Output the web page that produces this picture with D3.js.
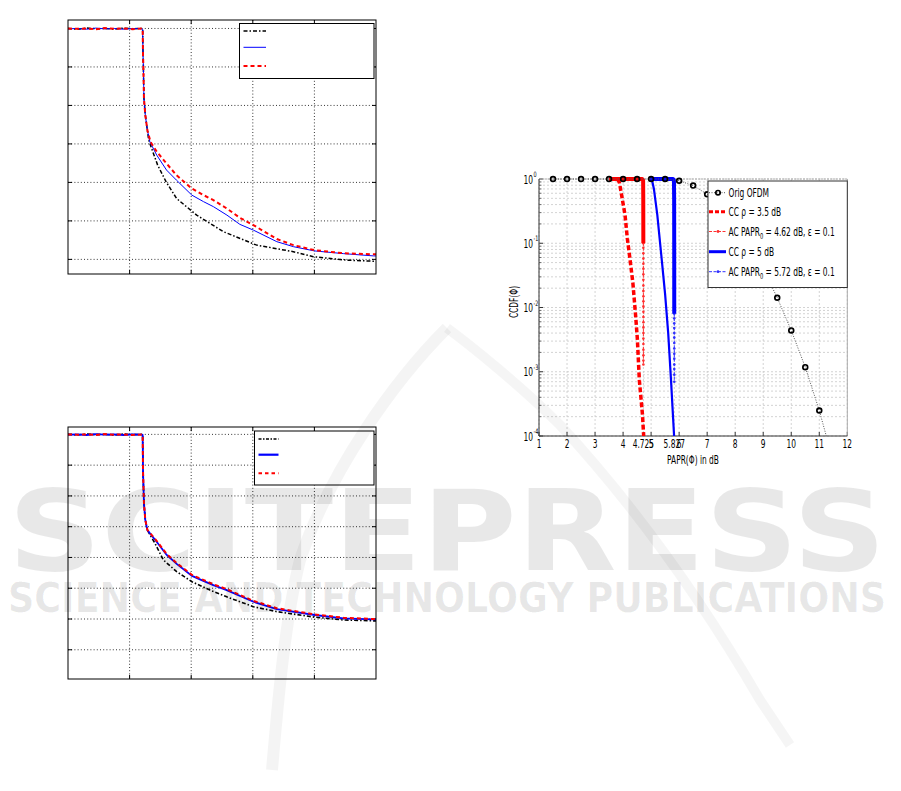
<!DOCTYPE html>
<html><head><meta charset="utf-8">
<script src="https://cdn.jsdelivr.net/npm/d3@7"></script>
<style>body{margin:0;background:#fff}svg{display:block}</style>
</head><body>
<script>
// ---------- DATA ----------
const leftXTicks = [1,2,3,4];
const topYTicks = [0,1,2,3,4,5,6];
const botYTicks = [1,2,3,4,5,6,7,8];

const topBlack = [[0,6.0],[0.15,5.98],[0.3,6.01],[0.45,5.99],[0.6,6.0],[0.75,5.98],[0.9,6.01],[1.05,5.99],[1.2,6.0],[1.212,5.98],[1.218,5.3],[1.223,5.05],[1.233,4.18],[1.255,3.75],[1.288,3.36],[1.31,3.1],[1.358,2.88],[1.455,2.45],[1.591,2.02],[1.764,1.58],[2.089,1.15],[2.522,0.72],[3.063,0.37],[3.658,0.20],[3.982,0.07],[4.524,-0.02],[5,-0.05]];
const topBlue = [[0,5.99],[0.15,6.0],[0.3,5.98],[0.45,6.01],[0.6,5.99],[0.75,6.0],[0.9,5.98],[1.05,6.0],[1.2,5.99],[1.212,5.98],[1.218,5.3],[1.223,5.05],[1.233,4.18],[1.255,3.75],[1.288,3.36],[1.33,3.05],[1.44,2.71],[1.6,2.32],[1.76,2.06],[2.01,1.67],[2.2,1.5],[2.36,1.37],[2.58,1.15],[2.79,0.91],[3.01,0.76],[3.39,0.46],[3.66,0.33],[4.0,0.22],[4.47,0.15],[4.96,0.09],[5,0.09]];
const topRed = [[0,6.0],[0.15,5.99],[0.3,6.0],[0.45,5.98],[0.6,6.01],[0.75,5.99],[0.9,6.0],[1.05,5.98],[1.2,6.0],[1.212,5.98],[1.218,5.3],[1.223,5.05],[1.233,4.18],[1.255,3.75],[1.288,3.36],[1.34,3.05],[1.44,2.80],[1.6,2.49],[1.76,2.19],[2.01,1.84],[2.2,1.67],[2.36,1.54],[2.58,1.32],[2.79,1.08],[3.01,0.89],[3.39,0.53],[3.66,0.37],[4.0,0.24],[4.47,0.16],[4.96,0.13],[5,0.13]];

const botBlack = [[0,8.0],[0.15,7.98],[0.3,8.01],[0.45,7.99],[0.6,8.0],[0.75,7.98],[0.9,8.01],[1.05,7.99],[1.2,8.0],[1.212,7.98],[1.218,6.8],[1.233,5.76],[1.255,5.22],[1.288,4.89],[1.412,4.46],[1.547,3.92],[1.764,3.54],[2.013,3.21],[2.305,2.94],[2.576,2.72],[3.009,2.40],[3.388,2.24],[4.005,2.06],[4.47,1.97],[4.957,1.94],[5,1.94]];
const botBlue = [[0,7.99],[0.15,8.0],[0.3,7.98],[0.45,8.01],[0.6,7.99],[0.75,8.0],[0.9,7.98],[1.05,8.0],[1.2,7.99],[1.212,7.98],[1.218,6.8],[1.233,5.76],[1.255,5.22],[1.288,4.89],[1.439,4.51],[1.602,4.08],[1.764,3.79],[2.013,3.40],[2.197,3.24],[2.359,3.10],[2.576,2.94],[3.009,2.56],[3.388,2.32],[4.005,2.13],[4.47,2.02],[4.957,1.99],[5,1.99]];
const botRed = [[0,8.0],[0.15,7.99],[0.3,8.0],[0.45,7.98],[0.6,8.01],[0.75,7.99],[0.9,8.0],[1.05,7.98],[1.2,8.0],[1.212,7.98],[1.218,6.8],[1.233,5.76],[1.255,5.22],[1.288,4.90],[1.439,4.54],[1.602,4.11],[1.764,3.82],[2.013,3.43],[2.197,3.27],[2.359,3.13],[2.576,2.97],[3.009,2.59],[3.388,2.35],[4.005,2.15],[4.47,2.04],[4.957,2.0],[5,2.0]];

const rightXTicks = [1,2,3,4,4.725,5,5.827,6,7,8,9,10,11,12];
const rightXTickLabels = ["1","2","3","4","4.725","5","5.827","6","7","8","9","10","11","12"];
const rightYExponents = [0,-1,-2,-3,-4];
const ofdmX = [1.5,2,2.5,3,3.5,4,4.5,5,5.5,6,6.5,7,7.5,8,8.5,9,9.5,10,10.5,11,11.5];
const ofdmY = [1,1,1,1,1,1,1,1,1,0.94,0.79,0.58,0.37,0.2,0.095,0.04,0.0142,0.0044,0.00118,0.00025,0.00004];
const ccRed = [[3.8,1],[3.87,0.88],[4.07,0.275],[4.15,0.12],[4.25,0.055],[4.35,0.024],[4.45,0.0072],[4.51,0.0032],[4.58,0.00074],[4.69,0.00022],[4.735,0.0001]];
const acRedHead = [[3.5,1],[4.68,1],[4.715,0.95],[4.72,0.5],[4.723,0.1]];
const acRedTail = [[4.723,0.1],[4.723,0.085],[4.724,0.07],[4.724,0.058],[4.724,0.048],[4.724,0.04],[4.724,0.033],[4.724,0.027],[4.724,0.022],[4.724,0.018],[4.725,0.015],[4.725,0.0125],[4.725,0.0104],[4.725,0.0086],[4.725,0.0071],[4.725,0.0059],[4.725,0.0049],[4.725,0.004],[4.725,0.0033],[4.725,0.0027],[4.725,0.0022],[4.725,0.0018],[4.725,0.0015],[4.725,0.0013]];
const ccBlue = [[4.96,1],[5.03,0.97],[5.1,0.7],[5.22,0.28],[5.38,0.055],[5.5,0.016],[5.61,0.004],[5.71,0.00074],[5.82,0.0001]];
const acBlueHead = [[4.95,1],[5.78,1],[5.815,0.95],[5.822,0.5],[5.825,0.05],[5.826,0.008]];
const acBlueTail = [[5.826,0.008],[5.826,0.0068],[5.826,0.0057],[5.827,0.0048],[5.827,0.004],[5.827,0.0034],[5.827,0.0028],[5.827,0.0023],[5.827,0.0019],[5.827,0.0016],[5.827,0.0013],[5.827,0.0011],[5.827,0.0009],[5.827,0.0007]];
const rightLegend = ["Orig OFDM","CC ρ = 3.5 dB","AC PAPR|0| = 4.62 dB, ε  = 0.1","CC ρ = 5 dB","AC PAPR|0| = 5.72 dB, ε = 0.1"];

// ---------- DRAW ----------
const svg = d3.select("body").append("svg").attr("width",901).attr("height",791);
svg.append("rect").attr("width",901).attr("height",791).attr("fill","#fff");
const FONT = "'DejaVu Sans',sans-serif";
const SX = 0.65;

function ctext(g,x,y,str,anchor,size){
  return g.append("text").attr("transform",`translate(${x},${y}) scale(${SX},1)`)
    .attr("text-anchor",anchor||"start").attr("font-family",FONT).attr("font-size",size||11.5)
    .attr("fill","#000").text(str);
}

let clipId = 0;
function leftChart(box, yDomain, yTicks, series, legBox, legItems){
  const [x0,y0,x1,y1] = box;
  const xs = d3.scaleLinear([0,5],[x0,x1]);
  const ys = d3.scaleLinear(yDomain,[y1,y0]);
  const g = svg.append("g");
  leftXTicks.forEach(t=>{
    g.append("line").attr("x1",xs(t)).attr("x2",xs(t)).attr("y1",y0).attr("y2",y1)
      .attr("stroke","#000").attr("stroke-width",0.8).attr("stroke-dasharray","1,2.2");
    g.append("line").attr("x1",xs(t)).attr("x2",xs(t)).attr("y1",y1).attr("y2",y1-4).attr("stroke","#000");
    g.append("line").attr("x1",xs(t)).attr("x2",xs(t)).attr("y1",y0).attr("y2",y0+4).attr("stroke","#000");
  });
  yTicks.forEach(t=>{
    g.append("line").attr("x1",x0).attr("x2",x1).attr("y1",ys(t)).attr("y2",ys(t))
      .attr("stroke","#000").attr("stroke-width",0.8).attr("stroke-dasharray","1,2.2");
    g.append("line").attr("x1",x0).attr("x2",x0+4).attr("y1",ys(t)).attr("y2",ys(t)).attr("stroke","#000");
    g.append("line").attr("x1",x1).attr("x2",x1-4).attr("y1",ys(t)).attr("y2",ys(t)).attr("stroke","#000");
  });
  const id = "clip"+(clipId++);
  svg.append("clipPath").attr("id",id).append("rect").attr("x",x0).attr("y",y0).attr("width",x1-x0).attr("height",y1-y0);
  const line = d3.line().x(d=>xs(d[0])).y(d=>ys(d[1]));
  const pg = g.append("g").attr("clip-path",`url(#${id})`);
  series.forEach(s=>{
    pg.append("path").attr("d",line(s.data)).attr("fill","none").attr("stroke",s.color)
      .attr("stroke-width",s.w).attr("stroke-dasharray",s.dash||null);
  });
  const [lx0,ly0,lx1,ly1] = legBox;
  g.append("rect").attr("x",lx0).attr("y",ly0).attr("width",lx1-lx0).attr("height",ly1-ly0)
    .attr("fill","#fff").attr("stroke","#000").attr("stroke-width",1);
  legItems.forEach(it=>{
    g.append("line").attr("x1",it.x1).attr("x2",it.x2).attr("y1",it.y).attr("y2",it.y)
      .attr("stroke",it.color).attr("stroke-width",it.w).attr("stroke-dasharray",it.dash||null);
  });
  g.append("rect").attr("x",x0).attr("y",y0).attr("width",x1-x0).attr("height",y1-y0)
    .attr("fill","none").attr("stroke","#000").attr("stroke-width",1);
}

leftChart([68,20,376,274],[-0.38,6.22],topYTicks,
  [{data:topBlack,color:"#000",w:1.5,dash:"4,2,1.5,2"},
   {data:topBlue,color:"#0000ff",w:1},
   {data:topRed,color:"#ff0000",w:2,dash:"4,3"}],
  [239.5,23.5,374,78.5],
  [{x1:243.5,x2:266,y:31,color:"#000",w:1.5,dash:"4,2,1.5,2"},
   {x1:243.5,x2:266,y:47.3,color:"#0000ff",w:1},
   {x1:243.5,x2:266,y:66,color:"#ff0000",w:2,dash:"4,3"}]);

leftChart([68,427,376,679],[0.05,8.24],botYTicks,
  [{data:botBlack,color:"#000",w:1.6,dash:"4,2,1.5,2"},
   {data:botBlue,color:"#0000ff",w:1.8},
   {data:botRed,color:"#ff0000",w:2,dash:"4,3"}],
  [254.5,431,374,485],
  [{x1:258.5,x2:278.5,y:439,color:"#000",w:1.6,dash:"3,1.5,1.5,1.5"},
   {x1:258.5,x2:278.5,y:454.7,color:"#0000ff",w:2.2},
   {x1:258.5,x2:278.5,y:473.3,color:"#ff0000",w:2,dash:"3.5,3"}]);

// ---- right chart ----
(function(){
  const x0=539,x1=847.3,y0=179,y1=436;
  const xs = d3.scaleLinear([1,12],[x0,x1]);
  const ys = d3.scaleLog([1e-4,1],[y1,y0]);
  const g = svg.append("g");
  const gridCol="#c8c8c8";
  rightYExponents.forEach(e=>{
    const base = Math.pow(10,e);
    g.append("line").attr("x1",x0).attr("x2",x1).attr("y1",ys(base)).attr("y2",ys(base))
      .attr("stroke",gridCol).attr("stroke-width",0.8).attr("stroke-dasharray","2,2");
    if(e>-4){[2,3,4,5,6,7,8,9].forEach(m=>{
      const v=base/10*m;
      g.append("line").attr("x1",x0).attr("x2",x1).attr("y1",ys(v)).attr("y2",ys(v))
        .attr("stroke",gridCol).attr("stroke-width",0.8).attr("stroke-dasharray","2,2");
      g.append("line").attr("x1",x0).attr("x2",x0+2.5).attr("y1",ys(v)).attr("y2",ys(v)).attr("stroke","#555").attr("stroke-width",0.8);
    });}
    g.append("line").attr("x1",x0).attr("x2",x0+4).attr("y1",ys(base)).attr("y2",ys(base)).attr("stroke","#333");
  });
  rightXTicks.forEach(t=>{
    g.append("line").attr("x1",xs(t)).attr("x2",xs(t)).attr("y1",y0).attr("y2",y1)
      .attr("stroke",gridCol).attr("stroke-width",0.8).attr("stroke-dasharray","2,2");
    g.append("line").attr("x1",xs(t)).attr("x2",xs(t)).attr("y1",y1).attr("y2",y1-4).attr("stroke","#333");
  });
  g.append("line").attr("x1",x1).attr("x2",x1).attr("y1",y0).attr("y2",y1).attr("stroke","#aaa");
  g.append("line").attr("x1",x0).attr("x2",x1).attr("y1",y0).attr("y2",y0).attr("stroke","#aaa").attr("stroke-dasharray","2,1");
  g.append("line").attr("x1",x0).attr("x2",x0).attr("y1",y0).attr("y2",y1).attr("stroke","#333");
  g.append("line").attr("x1",x0).attr("x2",x1).attr("y1",y1).attr("y2",y1).attr("stroke","#333");

  svg.append("clipPath").attr("id","clipR").append("rect").attr("x",x0).attr("y",y0-4).attr("width",x1-x0).attr("height",y1-y0+4);
  const pg = g.append("g").attr("clip-path","url(#clipR)");
  const line = d3.line().x(d=>xs(d[0])).y(d=>ys(d[1]));
  // AC red
  pg.append("path").attr("d",line(acRedTail)).attr("fill","none").attr("stroke","#ff3030").attr("stroke-width",1).attr("stroke-dasharray","3,1.5");
  pg.selectAll(null).data(acRedTail).enter().append("circle").attr("cx",d=>xs(d[0])).attr("cy",d=>ys(d[1])).attr("r",1.3).attr("fill","#ff3030");
  pg.append("path").attr("d",line(acRedHead)).attr("fill","none").attr("stroke","#ff0000").attr("stroke-width",4).attr("stroke-linejoin","round");
  // CC red
  pg.append("path").attr("d",line(ccRed)).attr("fill","none").attr("stroke","#ff0000").attr("stroke-width",3.5).attr("stroke-dasharray","5,2.5");
  // AC blue
  pg.append("path").attr("d",line(acBlueTail)).attr("fill","none").attr("stroke","#3030ff").attr("stroke-width",1).attr("stroke-dasharray","3,1.5");
  pg.selectAll(null).data(acBlueTail).enter().append("circle").attr("cx",d=>xs(d[0])).attr("cy",d=>ys(d[1])).attr("r",1.3).attr("fill","#3030ff");
  pg.append("path").attr("d",line(acBlueHead)).attr("fill","none").attr("stroke","#0000ff").attr("stroke-width",4).attr("stroke-linejoin","round");
  // CC blue
  pg.append("path").attr("d",line(ccBlue)).attr("fill","none").attr("stroke","#0000ff").attr("stroke-width",2.2);
  // Orig OFDM
  const ofdm = ofdmX.map((x,i)=>[x,ofdmY[i]]);
  pg.append("path").attr("d",line(ofdm)).attr("fill","none").attr("stroke","#555").attr("stroke-width",1).attr("stroke-dasharray","1,1.5");
  pg.selectAll(null).data(ofdm).enter().append("circle").attr("cx",d=>xs(d[0])).attr("cy",d=>ys(d[1]))
    .attr("r",2.4).attr("fill","none").attr("stroke","#000").attr("stroke-width",1.7);

  rightXTicks.forEach((t,i)=>{ ctext(g,xs(t),448,rightXTickLabels[i],"middle",11.5); });
  rightYExponents.forEach(e=>{
    const y=ys(Math.pow(10,e));
    ctext(g,533,y+4.5,"10","end",11.5);
    ctext(g,533.5,y-2,String(e),"start",7.5);
  });
  g.append("text").attr("transform","translate(518,302) rotate(-90) scale(0.65,1)").attr("text-anchor","middle")
    .attr("font-family",FONT).attr("font-size",11.5).attr("fill","#000").text("CCDF(Φ)");
  ctext(g,693,463.5,"PAPR(Φ) in dB","middle",11.5);

  g.append("rect").attr("x",708).attr("y",181).attr("width",139.3).attr("height",106.5)
    .attr("fill","#fff").attr("stroke","#333").attr("stroke-width",1);
  const ly=[192.7,211.7,231.5,251.7,271.7];
  const lsty=[
    {c:"#555",w:1,dash:"1,1.5",mk:"o"},
    {c:"#ff0000",w:3,dash:"4,2"},
    {c:"#ff3030",w:1,dash:"3,1.5",mk:"d"},
    {c:"#0000ff",w:3},
    {c:"#3030ff",w:1,dash:"3,1.5",mk:"d"}];
  rightLegend.forEach((lab,i)=>{
    const s=lsty[i];
    g.append("line").attr("x1",709).attr("x2",726).attr("y1",ly[i]).attr("y2",ly[i])
      .attr("stroke",s.c).attr("stroke-width",s.w).attr("stroke-dasharray",s.dash||null);
    if(s.mk==="o") g.append("circle").attr("cx",718).attr("cy",ly[i]).attr("r",2.2).attr("fill","none").attr("stroke","#000").attr("stroke-width",1.7);
    if(s.mk==="d") g.append("circle").attr("cx",718).attr("cy",ly[i]).attr("r",1.4).attr("fill",s.c);
    const t=ctext(g,728.5,ly[i]+4.2,"","start",11.5);
    const parts=lab.split("|");
    t.append("tspan").text(parts[0]);
    if(parts.length>1){
      t.append("tspan").attr("dy",3).attr("font-size",8).text(parts[1]);
      t.append("tspan").attr("dy",-3).text(parts[2]);
    }
  });
})();

// ---- watermark overlay ----
const wm = svg.append("g").attr("pointer-events","none");
wm.append("path").attr("d","M447,328 C395,380 330,470 300,560 C285,620 278,700 272,770")
  .attr("fill","none").attr("stroke","#000").attr("stroke-opacity",0.045).attr("stroke-width",12);
wm.append("path").attr("d","M447,328 C470,345 520,385 560,425 C620,490 690,580 760,700 L790,745")
  .attr("fill","none").attr("stroke","#000").attr("stroke-opacity",0.04).attr("stroke-width",10);
wm.append("text").attr("x",8).attr("y",570).attr("textLength",878).attr("lengthAdjust","spacingAndGlyphs")
  .attr("font-family","'DejaVu Sans',sans-serif").attr("font-weight","bold").attr("font-size",112)
  .attr("fill","#000").attr("fill-opacity",0.09).text("SCITEPRESS");
wm.append("text").attr("x",8).attr("y",612).attr("textLength",878).attr("lengthAdjust","spacingAndGlyphs")
  .attr("font-family","'DejaVu Sans',sans-serif").attr("font-weight","bold").attr("font-size",40)
  .attr("fill","#000").attr("fill-opacity",0.09).text("SCIENCE AND TECHNOLOGY PUBLICATIONS");
</script>
</body></html>
